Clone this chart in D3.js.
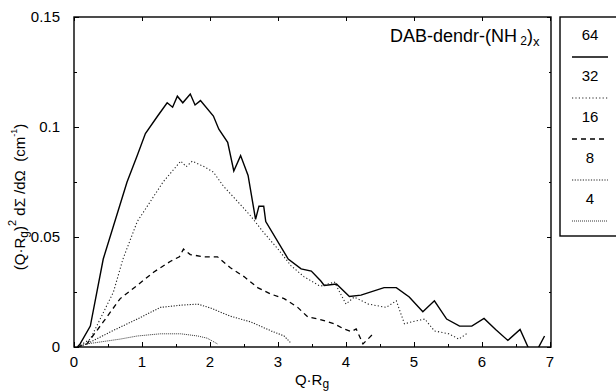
<!DOCTYPE html>
<html>
<head>
<meta charset="utf-8">
<script src="https://cdn.jsdelivr.net/npm/d3@7"></script>
<style>
  body { margin: 0; background: #fff; }
  svg { font-family: Arial, "Liberation Sans", sans-serif; }
</style>
</head>
<body>
<svg width="616" height="391"></svg>
<script>
// data
const q64 = [0.05, 0.09, 0.24, 0.43, 0.58, 0.78, 0.93, 1.05, 1.23, 1.37, 1.45, 1.52, 1.6, 1.71, 1.78, 1.86, 2.05, 2.13, 2.26, 2.35, 2.45, 2.56, 2.67, 2.72, 2.79, 2.82, 3.15, 3.34, 3.49, 3.63, 3.68, 3.86, 4.05, 4.22, 4.56, 4.74, 4.93, 5.13, 5.3, 5.48, 5.67, 5.85, 6.03, 6.2, 6.38, 6.56, 6.72, 6.8, 6.92];
const i64 = [0, 0.0014, 0.0095, 0.04, 0.055, 0.075, 0.087, 0.097, 0.105, 0.111, 0.109, 0.114, 0.111, 0.115, 0.11, 0.112, 0.105, 0.099, 0.093, 0.08, 0.087, 0.078, 0.058, 0.064, 0.064, 0.057, 0.04, 0.0355, 0.0345, 0.03, 0.028, 0.0286, 0.023, 0.0236, 0.027, 0.027, 0.0227, 0.016, 0.021, 0.0127, 0.0095, 0.0095, 0.013, 0.008, 0.003, 0.008, -0.003, -0.002, 0.005];

const q32 = [0.05, 0.24, 0.58, 0.72, 0.93, 1.12, 1.31, 1.57, 1.65, 1.74, 1.91, 2.05, 2.2, 2.41, 2.6, 2.79, 3.0, 3.19, 3.38, 3.6, 3.63, 3.83, 4.0, 4.12, 4.33, 4.59, 4.74, 4.86, 4.96, 5.16, 5.3, 5.51, 5.66, 5.79];
const i32 = [0, 0.0036, 0.025, 0.04, 0.057, 0.066, 0.075, 0.0845, 0.082, 0.0845, 0.082, 0.0795, 0.073, 0.066, 0.0595, 0.052, 0.0445, 0.037, 0.032, 0.028, 0.0277, 0.0295, 0.0195, 0.0227, 0.0195, 0.018, 0.021, 0.0105, 0.0114, 0.0127, 0.0073, 0.006, 0.0036, 0.0064];

const q16 = [0.05, 0.19, 0.43, 0.68, 0.93, 1.17, 1.42, 1.55, 1.61, 1.71, 1.91, 2.11, 2.3, 2.5, 2.7, 2.9, 3.09, 3.29, 3.44, 3.6, 3.83, 3.97, 4.08, 4.15, 4.25, 4.4];
const i16 = [0, 0.0014, 0.0114, 0.022, 0.028, 0.034, 0.039, 0.041, 0.0445, 0.042, 0.041, 0.041, 0.036, 0.032, 0.027, 0.024, 0.022, 0.018, 0.0136, 0.0127, 0.0105, 0.0082, 0.007, 0.0082, 0.0014, 0.006];

const q8 = [0.05, 0.19, 0.53, 0.93, 1.27, 1.57, 1.82, 2.01, 2.3, 2.6, 2.9, 3.09, 3.19];
const i8 = [0, 0.0014, 0.0068, 0.0127, 0.018, 0.019, 0.0195, 0.0177, 0.014, 0.0114, 0.0073, 0.005, 0.0018];

const q4 = [0.05, 0.19, 0.68, 0.93, 1.27, 1.57, 1.82, 1.96, 2.11];
const i4 = [0, 0.0014, 0.0036, 0.005, 0.006, 0.006, 0.005, 0.004, 0.0014];

const seriesNames = ["64", "32", "16", "8", "4"];
const xTicks = [0, 1, 2, 3, 4, 5, 6, 7];
const yTicks = [0, 0.05, 0.1, 0.15];
const yTickLabels = ["0", "0.05", "0.1", "0.15"];

const svg = d3.select("svg");

// plot frame in pixels
const plotL = 74, plotR = 551, plotT = 17, plotB = 347;

const x = d3.scaleLinear().domain([0, 7]).range([plotL, plotR - 1]);
const y = d3.scaleLinear().domain([0, 0.15]).range([plotB, plotT]);

// dash styles per series
const styles = {
  "64": { dash: null, width: 1.4, color: "#000" },
  "32": { dash: "1.2,2.2", width: 1.1, color: "#222" },
  "16": { dash: "5,4", width: 1.3, color: "#000" },
  "8": { dash: "1.2,1.5", width: 1.1, color: "#222" },
  "4": { dash: "1,1", width: 1, color: "#333" }
};

const series = [
  { name: "64", q: q64, v: i64 },
  { name: "32", q: q32, v: i32 },
  { name: "16", q: q16, v: i16 },
  { name: "8", q: q8, v: i8 },
  { name: "4", q: q4, v: i4 }
];

svg.append("clipPath").attr("id", "plotclip")
  .append("rect")
  .attr("x", plotL).attr("y", plotT)
  .attr("width", plotR - plotL).attr("height", plotB - plotT);

const line = d3.line().x(d => x(d[0])).y(d => y(d[1]));

svg.append("g").attr("clip-path", "url(#plotclip)")
  .selectAll("path")
  .data(series)
  .enter()
  .append("path")
  .attr("d", d => line(d.q.map((q, i) => [q, d.v[i]])))
  .attr("fill", "none")
  .attr("stroke", d => styles[d.name].color)
  .attr("stroke-width", d => styles[d.name].width)
  .attr("stroke-dasharray", d => styles[d.name].dash);

// axes: ticks inward on all four sides
const xMinor = d3.range(0.5, 7, 1);
const yMinor = [0.025, 0.075, 0.125];

svg.append("g").attr("transform", `translate(0,${plotB})`)
  .call(d3.axisTop(x).tickValues(xTicks).tickSize(5).tickFormat(""));
svg.append("g").attr("transform", `translate(0,${plotB})`)
  .call(d3.axisTop(x).tickValues(xMinor).tickSize(3).tickFormat(""));
svg.append("g").attr("transform", `translate(0,${plotT})`)
  .call(d3.axisBottom(x).tickValues(xTicks).tickSize(4).tickFormat(""));

svg.append("g").attr("transform", `translate(${plotL},0)`)
  .call(d3.axisRight(y).tickValues(yTicks).tickSize(5).tickFormat(""));
svg.append("g").attr("transform", `translate(${plotL},0)`)
  .call(d3.axisRight(y).tickValues(yMinor).tickSize(3).tickFormat(""));
svg.append("g").attr("transform", `translate(${plotR},0)`)
  .call(d3.axisLeft(y).tickValues(yTicks).tickSize(4).tickFormat(""));
svg.append("g").attr("transform", `translate(${plotR},0)`)
  .call(d3.axisLeft(y).tickValues(yMinor).tickSize(2).tickFormat(""));

svg.selectAll(".domain").remove();
svg.selectAll(".tick line").attr("stroke", "#000").attr("stroke-width", 1);

// frame
svg.append("rect")
  .attr("x", plotL).attr("y", plotT)
  .attr("width", plotR - plotL).attr("height", plotB - plotT)
  .attr("fill", "none").attr("stroke", "#000").attr("stroke-width", 1.4);

// tick labels
svg.append("g").selectAll("text")
  .data(xTicks).enter().append("text")
  .attr("x", d => x(d)).attr("y", plotB + 20)
  .attr("text-anchor", "middle")
  .attr("font-size", 15)
  .text(d => d);

svg.append("g").selectAll("text")
  .data(yTicks).enter().append("text")
  .attr("x", plotL - 14).attr("y", d => y(d) + 5)
  .attr("text-anchor", "end")
  .attr("font-size", 15)
  .text((d, i) => yTickLabels[i]);

// x label
const xl = svg.append("text")
  .attr("x", 312).attr("y", 385)
  .attr("text-anchor", "middle")
  .attr("font-size", 15);
xl.append("tspan").text("Q·R");
xl.append("tspan").attr("font-size", 12).attr("dy", 3).text("g");

// y label
const yl = svg.append("text")
  .attr("transform", "translate(25,197) rotate(-90)")
  .attr("text-anchor", "middle")
  .attr("font-size", 15);
yl.append("tspan").text("(Q·R");
yl.append("tspan").attr("font-size", 12).attr("dy", 3).text("g");
yl.append("tspan").attr("dy", -3).text(")");
yl.append("tspan").attr("font-size", 11).attr("dy", -9).text("2");
yl.append("tspan").attr("dy", 9).text("\u00a0dΣ /dΩ \u00a0(cm");
yl.append("tspan").attr("font-size", 9).attr("dy", -8).text("-1");
yl.append("tspan").attr("dy", 8).text(")");

// title
const tt = svg.append("text")
  .attr("x", 390).attr("y", 42)
  .attr("font-size", 18);
tt.append("tspan").text("DAB-dendr-(NH");
tt.append("tspan").attr("font-size", 12).attr("dy", 3).text("\u00a02");
tt.append("tspan").attr("dy", -3).text(")");
tt.append("tspan").attr("font-size", 13).attr("dy", 4).text("x");

// legend box
svg.append("rect")
  .attr("x", 560).attr("y", 17)
  .attr("width", 70).attr("height", 219)
  .attr("fill", "none").attr("stroke", "#000").attr("stroke-width", 1.4);

const legendY = d3.scalePoint().domain(seriesNames).range([40, 204]);

const lg = svg.append("g").selectAll("g")
  .data(seriesNames).enter().append("g")
  .attr("transform", d => `translate(0,${legendY(d)})`);

lg.append("text")
  .attr("x", 590).attr("y", 0)
  .attr("text-anchor", "middle")
  .attr("font-size", 15)
  .text(d => d);

lg.append("line")
  .attr("x1", 572).attr("x2", 608)
  .attr("y1", 17).attr("y2", 17)
  .attr("stroke", d => styles[d].color)
  .attr("stroke-width", d => styles[d].width)
  .attr("stroke-dasharray", d => styles[d].dash);
</script>
</body>
</html>
